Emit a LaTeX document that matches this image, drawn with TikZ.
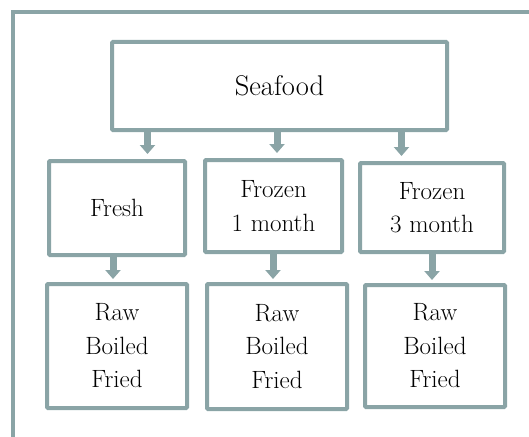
\documentclass[tikz,border=0pt]{standalone}
\usetikzlibrary{arrows.meta}
\definecolor{pGray}{HTML}{8AA4A6}

\begin{document}
\begin{tikzpicture}[x=1pt,y=-1pt]
    \tikzset{
        box/.style={draw=pGray, line width=4pt, rounded corners=1pt, fill=white, inner sep=0pt, align=center, font=\fontsize{25}{33.5}\selectfont},
        flow/.style={draw=pGray, line width=7pt, -{Triangle[width=15pt,length=9pt]}},
        frame/.style={draw=pGray, line width=4pt}
    };
    \useasboundingbox (0,0) rectangle (529,436);
    \draw[frame] (13,440) -- (13,12) -- (533,12);
    % top level
    \node[box, minimum width=335pt, minimum height=88pt, font=\fontsize{28.5}{33}\selectfont] (seafood) at (279.5,86) {Seafood};
    % storage
    \node[box, minimum width=136pt, minimum height=94pt] (fresh) at (117,208) {Fresh};
    \node[box, minimum width=137pt, minimum height=92pt] (frozenA) at (273.5,206) {Frozen\\1 month};
    \node[box, minimum width=144pt, minimum height=89pt] (frozenB) at (432,207.5) {Frozen\\3 month};
    % cooking
    \node[box, minimum width=140pt, minimum height=124pt] (cookA) at (117,346) {Raw\\Boiled\\Fried};
    \node[box, minimum width=140pt, minimum height=125pt] (cookB) at (277,346.5) {Raw\\Boiled\\Fried};
    \node[box, minimum width=140pt, minimum height=122pt] (cookC) at (435,346) {Raw\\Boiled\\Fried};
    % arrow ends
    \coordinate (inA) at ([xshift=30.5pt]fresh.north);
    \coordinate (inB) at ([xshift=3.5pt]frozenA.north);
    \coordinate (inC) at ([xshift=-30.5pt]frozenB.north);
    \coordinate (outA) at ([xshift=-4pt]cookA.north);
    \coordinate (outB) at ([xshift=-4pt]cookB.north);
    \coordinate (outC) at ([xshift=-3pt]cookC.north);
    \foreach \t in {inA,inB,inC}
        \draw[flow, shorten >=5pt] (seafood.south -| \t) -- (\t);
    \draw[flow, shorten >=3pt] (fresh.south -| outA) -- (outA);
    \draw[flow, shorten >=3pt] (frozenA.south -| outB) -- (outB);
    \draw[flow, shorten >=3pt] (frozenB.south -| outC) -- (outC);
\end{tikzpicture}
\end{document}
